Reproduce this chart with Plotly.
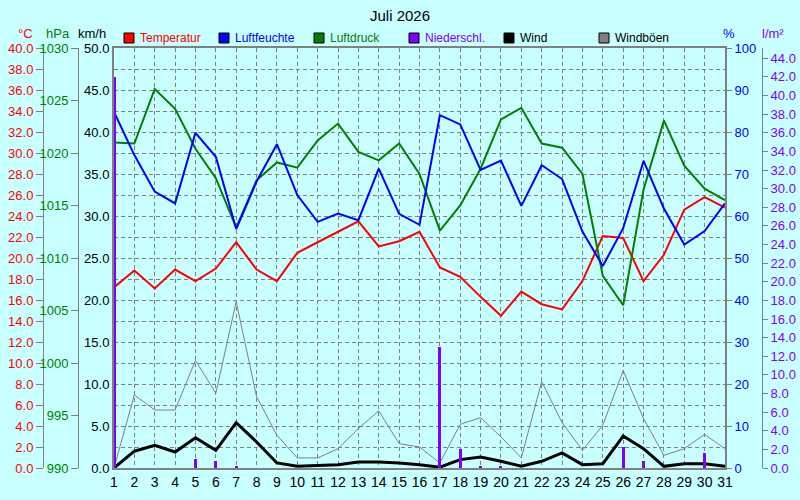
import plotly.graph_objects as go

# Tageswerte Juli 2026
days = list(range(1, 32))

temperatur = [17.2, 18.8, 17.1, 18.9, 17.8, 19.0, 21.5, 18.9, 17.8, 20.5,
              21.5, 22.5, 23.5, 21.1, 21.6, 22.5, 19.1, 18.2, 16.3, 14.5,
              16.8, 15.6, 15.1, 17.8, 22.1, 21.9, 17.8, 20.3, 24.6, 25.8, 24.8]

luftfeuchte = [84.8, 74.5, 65.8, 63.0, 79.8, 74.1, 56.9, 68.2, 77.1, 65.0,
               58.6, 60.6, 59.0, 71.3, 60.5, 57.9, 84.0, 81.8, 71.0, 73.2,
               62.4, 72.1, 68.8, 56.3, 48.1, 57.1, 73.1, 61.8, 53.2, 56.4, 63.0]

luftdruck = [1021.0, 1020.9, 1026.1, 1024.2, 1020.4, 1017.6, 1012.9, 1017.4, 1019.1, 1018.6,
             1021.2, 1022.8, 1020.1, 1019.3, 1020.9, 1018.0, 1012.6, 1015.0, 1018.5, 1023.2,
             1024.3, 1020.9, 1020.5, 1018.0, 1008.3, 1005.5, 1016.5, 1023.1, 1018.8, 1016.6, 1015.5]

niederschlag = [42.0, 0, 0, 0, 1.0, 0.8, 0.2, 0, 0, 0,
                0, 0, 0, 0, 0, 0, 13.0, 2.0, 0.2, 0.2,
                0, 0, 0, 0, 0, 2.3, 0.8, 0, 0, 1.6, 0]

wind = [0.0, 2.0, 2.7, 1.9, 3.6, 2.1, 5.4, 3.1, 0.6, 0.2,
        0.3, 0.4, 0.7, 0.7, 0.6, 0.4, 0.1, 1.0, 1.3, 0.8,
        0.2, 0.8, 1.8, 0.4, 0.5, 3.8, 2.3, 0.2, 0.5, 0.5, 0.2]

windboeen = [0.0, 8.7, 6.9, 6.9, 12.8, 8.9, 19.8, 8.5, 3.9, 1.2,
             1.2, 2.3, 4.7, 6.8, 2.9, 2.5, 0.6, 5.2, 6.0, 3.7,
             1.2, 10.3, 5.4, 2.1, 5.1, 11.6, 5.9, 1.5, 2.3, 4.0, 2.3]

legend_names = ["Temperatur", "Luftfeuchte", "Luftdruck", "Niederschl.", "Wind", "Windböen"]

# Farben
ROT = "#FF0000"
BLAU = "#0000FF"
GRUEN = "#008000"
LILA = "#8000FF"
SCHWARZ = "#000000"
GRAU = "#808080"
BG = "#C8FFFF"
legend_colors = [ROT, BLAU, GRUEN, LILA, SCHWARZ, GRAU]
legend_text_colors = [ROT, BLAU, GRUEN, LILA, SCHWARZ, SCHWARZ]

FONT = "Liberation Sans"
W, H = 800, 500


def px_x(x):
    return x / W


def px_y(y):
    return 1 - y / H


fig = go.Figure()

# Niederschlag als schmale Balken
fig.add_trace(go.Bar(x=days, y=niederschlag, width=0.15, marker=dict(color=LILA, line=dict(width=0)),
                     yaxis="y5", hoverinfo="y"))

# Wind / Windböen (km/h)
fig.add_trace(go.Scatter(x=days, y=windboeen, mode="lines", line=dict(color=GRAU, width=1), yaxis="y"))
fig.add_trace(go.Scatter(x=days, y=wind, mode="lines", line=dict(color=SCHWARZ, width=3), yaxis="y"))

# Temperatur, Luftdruck, Luftfeuchte
fig.add_trace(go.Scatter(x=days, y=temperatur, mode="lines", line=dict(color=ROT, width=2), yaxis="y2"))
fig.add_trace(go.Scatter(x=days, y=luftdruck, mode="lines", line=dict(color=GRUEN, width=2), yaxis="y3"))
fig.add_trace(go.Scatter(x=days, y=luftfeuchte, mode="lines", line=dict(color=BLAU, width=2), yaxis="y4"))

grid_dash = "4px,3px"
y_domain = [px_y(468), px_y(48)]
tick_size = 13

fig.update_layout(
    width=W, height=H,
    margin=dict(l=0, r=0, t=0, b=0),
    paper_bgcolor=BG, plot_bgcolor=BG,
    showlegend=False,
    font=dict(family=FONT, size=13, color=SCHWARZ),
    xaxis=dict(domain=[px_x(114), px_x(725)], range=[1, 31], tick0=1, dtick=1, automargin=False,
               showgrid=True, gridcolor=GRAU, gridwidth=1, griddash=grid_dash,
               showline=True, linecolor=GRAU, linewidth=2, mirror=True,
               zeroline=False, ticks="", tickfont=dict(size=14, color=SCHWARZ)),
    # km/h (Hauptachse mit Gitter)
    yaxis=dict(domain=y_domain, range=[0, 50], dtick=5, tickformat=".1f", automargin=False,
               showgrid=True, gridcolor=GRAU, gridwidth=1, griddash=grid_dash,
               minor=dict(dtick=2.5, showgrid=True, gridcolor=GRAU, gridwidth=1, griddash=grid_dash),
               showline=True, linecolor=GRAU, linewidth=2, mirror=True,
               zeroline=False, ticks="", tickfont=dict(size=tick_size, color=SCHWARZ)),
    # °C
    yaxis2=dict(domain=y_domain, range=[0, 40], dtick=2, tickformat=".1f", overlaying="y",
                anchor="free", position=px_x(43), side="left", automargin=False,
                showgrid=False, zeroline=False, showline=True, linecolor=GRAU, linewidth=1,
                ticks="outside", ticklen=7, tickcolor=GRAU, tickfont=dict(size=tick_size, color=ROT)),
    # hPa
    yaxis3=dict(domain=y_domain, range=[990, 1030], dtick=5, overlaying="y",
                anchor="free", position=px_x(78), side="left", automargin=False,
                showgrid=False, zeroline=False, showline=True, linecolor=GRAU, linewidth=1,
                ticks="outside", ticklen=7, tickcolor=GRAU, tickfont=dict(size=tick_size, color=GRUEN)),
    # %
    yaxis4=dict(domain=y_domain, range=[0, 100], dtick=10, overlaying="y",
                anchor="x", side="right", automargin=False,
                showgrid=False, zeroline=False, showline=False,
                ticks="outside", ticklen=6, tickcolor=GRAU, tickfont=dict(size=tick_size, color=BLAU)),
    # l/m²
    yaxis5=dict(domain=y_domain, range=[0, 45.1], dtick=2, tickformat=".1f", overlaying="y",
                anchor="free", position=px_x(762), side="right", automargin=False,
                showgrid=False, zeroline=False, showline=True, linecolor=GRAU, linewidth=1,
                ticks="outside", ticklen=5, tickcolor=GRAU, tickfont=dict(size=tick_size, color=LILA)),
    bargap=0,
)

# Titel und Achsenbeschriftungen
annotations = [
    dict(text="Juli 2026", x=px_x(400), y=px_y(15), font=dict(size=15, color=SCHWARZ)),
    dict(text="°C", x=px_x(25), y=px_y(33), font=dict(size=13, color=ROT)),
    dict(text="hPa", x=px_x(58), y=px_y(33), font=dict(size=13, color=GRUEN)),
    dict(text="km/h", x=px_x(92), y=px_y(33), font=dict(size=13, color=SCHWARZ)),
    dict(text="%", x=px_x(729), y=px_y(33), font=dict(size=13, color=BLAU)),
    dict(text="l/m²", x=px_x(773), y=px_y(33), font=dict(size=13, color=LILA)),
]
for a in annotations:
    a.update(xref="paper", yref="paper", showarrow=False, xanchor="center", yanchor="middle")
    fig.add_annotation(**a)

# Legende oben: Kästchen + Text
for i, name in enumerate(legend_names):
    x0 = 124 + i * 95
    fig.add_shape(type="rect", xref="paper", yref="paper",
                  x0=px_x(x0), x1=px_x(x0 + 10), y0=px_y(43), y1=px_y(33),
                  fillcolor=legend_colors[i], line=dict(color=SCHWARZ, width=1))
    fig.add_annotation(text=name, xref="paper", yref="paper", x=px_x(x0 + 14), y=px_y(38),
                       xanchor="left", yanchor="middle", showarrow=False,
                       font=dict(size=12, color=legend_text_colors[i]))

# Seitenrand des Browsers entfernen, damit das Bild bei 0,0 beginnt
fig.write_html("out.html", config={"displayModeBar": False},
               post_script="document.body.style.margin='0';")
